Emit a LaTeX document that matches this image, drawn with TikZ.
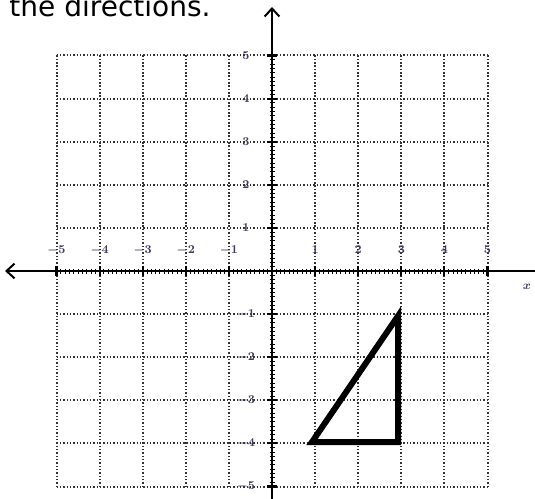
\documentclass[tikz,border=0pt]{standalone}
\usepackage{fontspec}
\newfontfamily\titlefont{DejaVu Sans}
\usetikzlibrary{arrows.meta}

\tikzset{every picture/.style={line width=0.75pt}}
\tikzset{
  gridline/.style={color=black!80, line width=1.5pt, dash pattern=on 1.2pt off 1.3pt},
  axisline/.style={line width=1.5pt},
  minortick/.style={line width=0.7pt},
  majortick/.style={line width=1.6pt},
  ticklabel/.style={font=\fontsize{9}{9}\selectfont\boldmath, text={rgb,255:red,60;green,60;blue,95}, inner sep=0.75pt},
}

\begin{document}
\begin{tikzpicture}[x=0.75pt,y=0.75pt,yscale=-1,xscale=1]
\useasboundingbox (0,0) rectangle (535,499);

% Text Node
\node [anchor=base west, inner sep=0pt, font=\titlefont\fontsize{21}{21}\selectfont] (title) at (9,17) {the directions.};

%Grid
\foreach \i in {-5,...,5} {
  \draw [gridline] ({272+43.1*\i},55.5) -- ({272+43.1*\i},486.5);
  \draw [gridline] (56.5,{271+43.1*\i}) -- (487.5,{271+43.1*\i});
}

%Axes
\coordinate (xleft) at (5,271);
\coordinate (xright) at (547,271);
\coordinate (ybottom) at (272,510);
\coordinate (ytop) at (272,7);
\draw [axisline, {Straight Barb[length=6pt,width=11pt]}-{Straight Barb[length=6pt,width=11pt]}] (xleft) -- (xright);
\draw [axisline, -{Straight Barb[length=6pt,width=11pt]}] (ybottom) -- (ytop);

%Ticks
\foreach \k in {-50,...,50} {
  \draw [minortick] ({272+4.31*\k},268.5) -- ({272+4.31*\k},273.5);
  \draw [minortick] (269.5,{271+4.31*\k}) -- (274.5,{271+4.31*\k});
}
\foreach \i in {-5,...,-1,1,2,3,4,5} {
  \draw [majortick] ({272+43.1*\i},266) -- ({272+43.1*\i},276);
  \draw [majortick] (267,{271+43.1*\i}) -- (277,{271+43.1*\i});
}

%Tick labels
\foreach \i in {-5,...,-1,1,2,3,4,5} {
  \node [ticklabel] (xlab\i) at ({272+43.1*\i},250) {$\i$};
  \node [ticklabel] (ylab\i) at (246,{271-43.1*\i}) {$\i$};
}
\node [ticklabel] (xname) at (527,287) {$x$};

%Shape: Triangle
\coordinate (A) at (312,442);
\coordinate (B) at (398,442);
\coordinate (C) at (398,316);
\draw [line width=4.5pt, miter limit=10] (A) -- (B) -- (C) -- cycle;

\end{tikzpicture}
\end{document}
